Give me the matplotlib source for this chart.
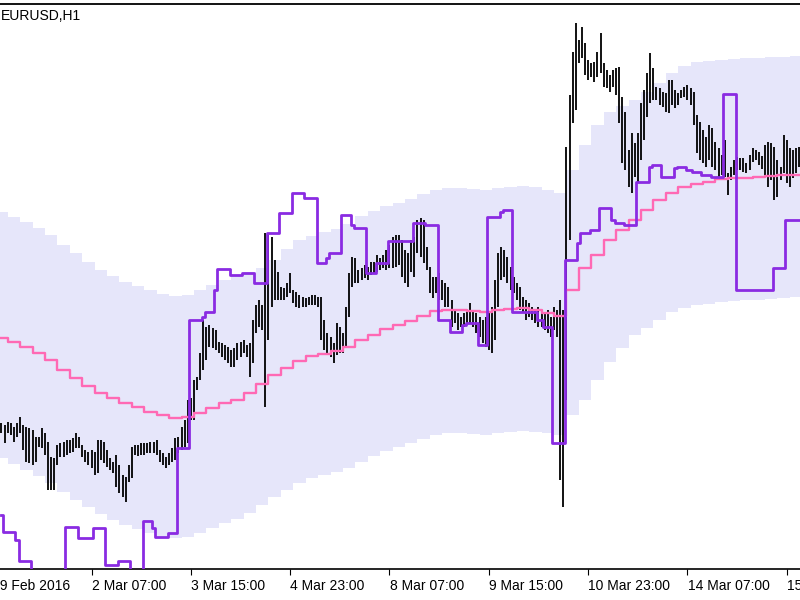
import numpy as np
import matplotlib
matplotlib.use("Agg")
import matplotlib.pyplot as plt
import matplotlib.transforms as mtransforms

plt.rcParams['font.family'] = ['Liberation Sans', 'DejaVu Sans']

# ---------------- data (prices in points, 1 point = 0.0001) ----------------
symbol_label = "EURUSD,H1"
tick_bars = [-3, 29, 61, 93, 125, 157, 189, 221, 253]
tick_labels = ["29 Feb 2016", "2 Mar 07:00", "3 Mar 15:00", "4 Mar 23:00",
               "8 Mar 07:00", "9 Mar 15:00", "10 Mar 23:00", "14 Mar 07:00",
               "15 Mar 15:00"]

high_pts = [
    10867, 10865, 10868, 10867, 10863, 10867, 10873, 10865, 10863, 10862,
    10860, 10853, 10853, 10862, 10857, 10848, 10833, 10832, 10845, 10847,
    10848, 10850, 10850, 10852, 10857, 10853, 10845, 10840, 10838, 10840,
    10838, 10850, 10850, 10848, 10840, 10832, 10828, 10835, 10825, 10815,
    10813, 10825, 10843, 10845, 10845, 10847, 10847, 10847, 10848, 10848,
    10850, 10840, 10837, 10833, 10837, 10842, 10852, 10853, 10863, 10870,
    10890, 10892, 10910, 10913, 10937, 10970, 10963, 10965, 10962, 10960,
    10948, 10947, 10945, 10943, 10940, 10942, 10947, 10948, 10950, 10945,
    10947, 10970, 10985, 10990, 10985, 11057, 11055, 11053, 11030, 11018,
    11003, 11002, 11007, 11017, 11000, 10998, 10995, 10993, 10992, 10993,
    10995, 10995, 10993, 10993, 10970, 10957, 10953, 10947, 10967, 10963,
    10957, 10983, 11017, 11033, 11032, 11020, 11022, 11025, 11023, 11028,
    11028, 11035, 11032, 11035, 11040, 11045, 11053, 11055, 11055, 11050,
    11040, 11037, 11050, 11053, 11070, 11072, 11070, 11043, 11023, 11013,
    11013, 11017, 11010, 11007, 11003, 10990, 10980, 10977, 10973, 10977,
    10980, 10987, 10980, 10977, 10973, 10970, 10973, 10977, 10983, 11010,
    11037, 11043, 11040, 11033, 11023, 11013, 11007, 11003, 10993, 10990,
    10987, 10983, 10980, 10983, 10980, 10977, 10980, 10973, 10983, 10980,
    10990, 10980, 11143, 11195, 11238, 11267, 11250, 11263, 11247, 11230,
    11227, 11228, 11238, 11257, 11227, 11220, 11215, 11220, 11222, 11223,
    11193, 11178, 11140, 11157, 11147, 11157, 11187, 11200, 11217, 11237,
    11222, 11203, 11202, 11198, 11197, 11210, 11210, 11200, 11197, 11200,
    11203, 11205, 11202, 11198, 11175, 11168, 11160, 11153, 11165, 11162,
    11148, 11142, 11135, 11150, 11117, 11123, 11130, 11133, 11132, 11132,
    11127, 11135, 11142, 11140, 11138, 11134, 11145, 11148, 11147, 11143,
    11130, 11123, 11155, 11150, 11142, 11140, 11142, 11143]

low_pts = [
    10857, 10847, 10857, 10855, 10848, 10853, 10857, 10840, 10828, 10827,
    10825, 10828, 10843, 10842, 10835, 10800, 10800, 10800, 10825, 10833,
    10833, 10835, 10837, 10838, 10842, 10842, 10833, 10828, 10825, 10822,
    10815, 10817, 10830, 10827, 10823, 10820, 10817, 10803, 10797, 10793,
    10788, 10808, 10812, 10835, 10834, 10835, 10835, 10837, 10837, 10837,
    10835, 10828, 10825, 10822, 10825, 10828, 10830, 10837, 10840, 10843,
    10847, 10870, 10870, 10900, 10910, 10920, 10930, 10943, 10942, 10940,
    10937, 10933, 10930, 10927, 10923, 10923, 10930, 10933, 10937, 10933,
    10913, 10927, 10957, 10963, 10960, 10883, 10950, 10983, 10990, 10990,
    10990, 10990, 10993, 10997, 10987, 10983, 10982, 10983, 10983, 10985,
    10985, 10985, 10983, 10950, 10940, 10935, 10933, 10927, 10935, 10937,
    10937, 10943, 10973, 11003, 11007, 11007, 11010, 11012, 11010, 11015,
    11017, 11018, 11020, 11022, 11020, 11022, 11022, 11023, 11025, 11013,
    11007, 11003, 11018, 11013, 11037, 11033, 11027, 11020, 10997, 10992,
    10997, 10990, 10990, 10983, 10983, 10963, 10967, 10960, 10963, 10963,
    10967, 10967, 10963, 10957, 10953, 10947, 10943, 10940, 10937, 10950,
    10983, 11010, 11013, 11007, 11000, 10997, 10990, 10980, 10977, 10970,
    10973, 10970, 10967, 10963, 10963, 10960, 10957, 10953, 10960, 10953,
    10810, 10783, 10890, 11050, 11167, 11180, 11227, 11232, 11215, 11210,
    11213, 11208, 11213, 11217, 11203, 11202, 11198, 11203, 11195, 11167,
    11127, 11120, 11103, 11097, 11113, 11107, 11130, 11150, 11173, 11187,
    11190, 11190, 11185, 11183, 11178, 11177, 11185, 11182, 11185, 11192,
    11193, 11190, 11185, 11165, 11137, 11130, 11127, 11123, 11130, 11123,
    11120, 11113, 11115, 11113, 11095, 11110, 11115, 11120, 11120, 11118,
    11117, 11120, 11128, 11130, 11125, 11121, 11113, 11103, 11110, 11090,
    11093, 11110, 11117, 11107, 11103, 11112, 11117, 11123]

# moving average and envelope, one reading every 4 bars
band_step = 4
ma_pts = [
    10952, 10948, 10943, 10937, 10930, 10920, 10912, 10904, 10897, 10892,
    10887, 10883, 10878, 10875, 10872, 10873, 10877, 10882, 10887, 10890,
    10897, 10906, 10915, 10922, 10929, 10934, 10936, 10939, 10943, 10950,
    10955, 10961, 10965, 10969, 10974, 10979, 10980, 10980, 10979, 10978,
    10980, 10981, 10982, 10980, 10977, 10974, 11000, 11022, 11035, 11050,
    11060, 11070, 11080, 11090, 11097, 11103, 11106, 11108, 11111, 11112,
    11112, 11113, 11114, 11115, 11115]
band_upper_pts = [
    11078, 11073, 11068, 11062, 11055, 11045, 11037, 11028, 11020, 11014,
    11008, 11004, 11000, 10996, 10994, 10995, 11000, 11005, 11010, 11014,
    11018, 11022, 11030, 11041, 11050, 11054, 11058, 11061, 11066, 11074,
    11079, 11084, 11087, 11091, 11096, 11100, 11102, 11102, 11101, 11100,
    11102, 11103, 11104, 11103, 11100, 11097, 11120, 11145, 11165, 11178,
    11184, 11190, 11198, 11207, 11217, 11224, 11228, 11229, 11230, 11231,
    11232, 11232, 11233, 11233, 11234]
band_lower_pts = [
    10832, 10826, 10820, 10814, 10807, 10798, 10790, 10783, 10776, 10770,
    10765, 10761, 10757, 10754, 10752, 10753, 10757, 10762, 10767, 10771,
    10777, 10785, 10793, 10800, 10807, 10812, 10815, 10818, 10822, 10828,
    10834, 10839, 10843, 10847, 10851, 10855, 10857, 10857, 10856, 10855,
    10857, 10858, 10859, 10858, 10857, 10855, 10875, 10890, 10910, 10928,
    10942, 10955, 10962, 10970, 10978, 10982, 10985, 10986, 10988, 10989,
    10990, 10990, 10991, 10992, 10993]

# purple step indicator: level and number of bars it holds
purple_levels = [
    10775, 10758, 10750, 10729, 10690, 10763, 10752, 10762, 10725, 10729,
    10700, 10769, 10762, 10753, 10757, 10842, 10970, 10973, 10978, 11000,
    11021, 11015, 11017, 11007, 11057, 11077, 11097, 11092, 11027, 11032,
    11037, 11075, 11065, 11062, 11017, 11027, 11049, 11067, 11065, 10970,
    10958, 10965, 10967, 10945, 11073, 11078, 11080, 10978, 10970, 10963,
    10847, 11030, 11047, 11057, 11060, 11082, 11070, 11067, 11065, 11108,
    11123, 11125, 11113, 11122, 11123, 11120, 11118, 11115, 11113, 11196,
    11000, 11022, 11070]
purple_counts = [
    1, 4, 1, 4, 11, 4, 5, 4, 4, 4,
    4, 3, 1, 4, 3, 4, 4, 1, 3, 1,
    4, 4, 4, 4, 4, 4, 4, 4, 3, 1,
    4, 3, 1, 4, 3, 4, 8, 4, 4, 4,
    4, 1, 4, 3, 4, 1, 3, 8, 2, 3,
    4, 4, 1, 3, 3, 4, 1, 3, 4, 4,
    1, 3, 4, 1, 3, 2, 3, 3, 4, 4,
    12, 4, 5]

# ---------------- build ----------------
high = np.array(high_pts) / 1e4
low = np.array(low_pts) / 1e4
bars = np.arange(len(high))
ma = np.array(ma_pts) / 1e4
up = np.array(band_upper_pts) / 1e4
lo = np.array(band_lower_pts) / 1e4
sample_x = np.arange(len(ma)) * band_step
edges = np.append(sample_x - band_step / 2, sample_x[-1] + band_step / 2)
purple = np.repeat(np.array(purple_levels) / 1e4, purple_counts)

fig = plt.figure(figsize=(8, 6), dpi=100)
ax = fig.add_axes([0, 1 - 569 / 600, 1, (569 - 4) / 600])
ax.set_xlim(-0.483, 257.25)
ax.set_ylim(1.0721, 1.1286)

ax.fill_between(edges, np.append(lo, lo[-1]), np.append(up, up[-1]),
                step='post', color='#E6E6FA', linewidth=0, zorder=1)
ax.vlines(bars, low, high, color='black', linewidth=1.3, zorder=2)
ax.plot(edges, np.append(ma, ma[-1]), drawstyle='steps-post',
        color='#FF69B4', linewidth=1.7, zorder=3)
ax.plot(bars, purple, drawstyle='steps-mid', color='#8A2BE2',
        linewidth=2.0, zorder=4)

for s in ['left', 'right']:
    ax.spines[s].set_visible(False)
ax.spines['top'].set_linewidth(1.3)
ax.spines['bottom'].set_linewidth(1.2)
ax.set_yticks([])
ax.set_xticks(tick_bars[1:])
ax.set_xticklabels([])
ax.tick_params(axis='x', direction='out', length=4, width=0.8, color='black')

trans = mtransforms.blended_transform_factory(ax.transData, fig.transFigure)
for b, lab in zip(tick_bars, tick_labels):
    ax.text(b + 0.1, 1 - 589.5 / 600, lab, transform=trans, ha='left',
            va='baseline', fontsize=10, color='black', clip_on=False)

fig.text(0.0012, 1 - 19.5 / 600, symbol_label, ha='left', va='baseline',
         fontsize=10, color='black')

fig.savefig('out.png', dpi=100, facecolor='white')
